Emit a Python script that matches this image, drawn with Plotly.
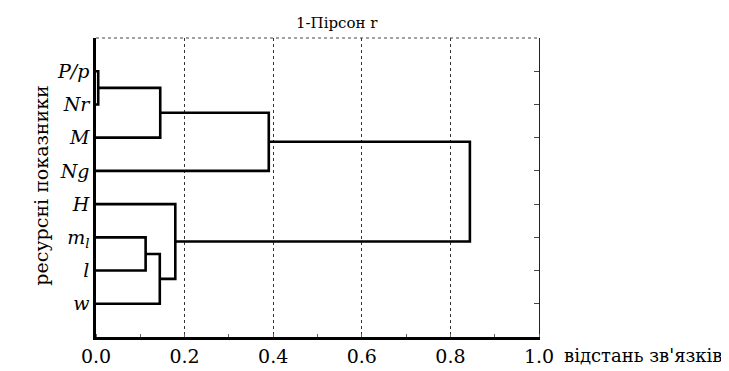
import plotly.graph_objects as go

# ---- data ----
leaf_labels = ["<i>P/p</i>", "<i>Nr</i>", "<i>M</i>", "<i>Ng</i>", "<i>H</i>",
               "<i>m<sub>l</sub></i>", "<i>l</i>", "<i>w</i>"]
# linkage: node ids 0..7 are leaves, new nodes 8.. in merge order
merge_left = [0, 8, 9, 5, 11, 4, 10]
merge_right = [1, 2, 3, 6, 7, 12, 13]
merge_height = [0.005, 0.145, 0.390, 0.112, 0.144, 0.179, 0.844]
x_ticks = [0.0, 0.2, 0.4, 0.6, 0.8, 1.0]
x_ticktext = ["0.0", "0.2", "0.4", "0.6", "0.8", "1.0"]

title_text = "1-Пірсон r"
x_title = "відстань зв'язків"
y_title = "ресурсні показники"

# ---- build dendrogram segments ----
n = len(leaf_labels)
pos = {i: i + 1 for i in range(n)}
hgt = {i: 0.0 for i in range(n)}
xs, ys = [], []
for k, (a, b, h) in enumerate(zip(merge_left, merge_right, merge_height)):
    xs += [hgt[a], h, h, hgt[b], None]
    ys += [pos[a], pos[a], pos[b], pos[b], None]
    node = n + k
    pos[node] = (pos[a] + pos[b]) / 2
    hgt[node] = h

FONT = "DejaVu Serif"
fig = go.Figure()
fig.add_trace(go.Scatter(x=xs, y=ys, mode="lines",
                         line=dict(color="black", width=2.6),
                         hoverinfo="skip", showlegend=False))
fig.add_trace(go.Scatter(x=[0], y=[1], yaxis="y2", mode="markers",
                         marker=dict(opacity=0), hoverinfo="skip",
                         showlegend=False))

rows = list(range(1, n + 1))
fig.update_layout(
    width=729, height=371,
    margin=dict(l=88, r=198, t=30, b=33),
    paper_bgcolor="white", plot_bgcolor="white",
    font=dict(family=FONT, color="black"),
    xaxis=dict(range=[0, 1], tickvals=x_ticks, ticktext=x_ticktext,
               showgrid=True, griddash="dot", gridcolor="#333", gridwidth=1,
               showline=True, linecolor="black", linewidth=2.5,
               ticks="", zeroline=False,
               tickfont=dict(family=FONT, size=19, color="black"),
               minor=dict(dtick=0.1, ticks="inside", ticklen=3,
                          tickcolor="#666", showgrid=False)),
    yaxis=dict(range=[9, 0], tickvals=rows, ticktext=leaf_labels,
               showgrid=False, zeroline=False, showline=True,
               linecolor="black", linewidth=2.5, ticks="",
               tickfont=dict(family=FONT, size=19, color="black")),
    yaxis2=dict(range=[9, 0], overlaying="y", side="right",
                tickvals=rows, ticks="inside", ticklen=5, tickcolor="#444",
                showticklabels=False, showline=True, linecolor="#222",
                linewidth=1, showgrid=False, zeroline=False),
)

# top border (dotted)
fig.add_shape(type="line", xref="paper", yref="paper", x0=0, x1=1, y0=1, y1=1,
              line=dict(color="#444", width=1, dash="dot"))

fig.add_annotation(text=title_text, xref="paper", yref="paper",
                   x=0.545, y=1.05, xanchor="center", yanchor="middle",
                   showarrow=False, font=dict(family=FONT, size=15, color="black"))
fig.add_annotation(text=x_title, xref="paper", yref="paper",
                   x=1.052, y=-0.062, xanchor="left", yanchor="middle",
                   showarrow=False, font=dict(family=FONT, size=18, color="black"))
fig.add_annotation(text=y_title, xref="paper", yref="paper",
                   x=-0.125, y=0.505, xanchor="center", yanchor="middle",
                   textangle=-90, showarrow=False,
                   font=dict(family=FONT, size=19, color="black"))

fig.write_html("out.html")
